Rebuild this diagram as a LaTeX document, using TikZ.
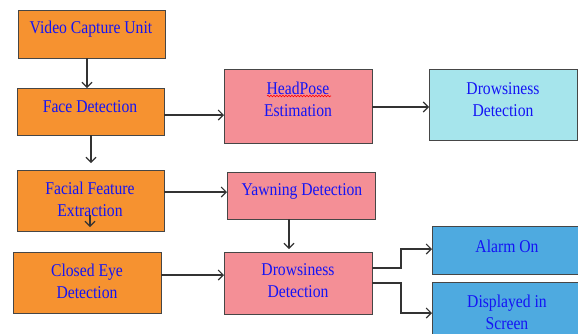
\documentclass[tikz,border=0pt]{standalone}
\usepackage{fontspec}
\setmainfont{Liberation Serif}[FakeStretch=0.87]
\usetikzlibrary{arrows.meta,decorations.pathmorphing}
\definecolor{orng}{RGB}{246,146,48}
\definecolor{pnk}{RGB}{244,143,150}
\definecolor{cyn}{RGB}{166,229,236}
\definecolor{blu}{RGB}{78,170,224}
\definecolor{txt}{RGB}{20,20,245}
\definecolor{edge}{RGB}{70,70,70}
\tikzset{
  box/.style={draw=edge,line width=1pt,inner sep=0pt,outer sep=0pt},
  lbl/.style={text=txt,font=\fontsize{18}{22}\selectfont,align=center,inner sep=0pt},
  conn/.style={draw=black!80,line width=1.2pt,-{Straight Barb[length=5pt,width=10pt,line width=1.1pt]}},
}
\begin{document}
\begin{tikzpicture}[x=1pt,y=-1pt]
\useasboundingbox (0,0) rectangle (578,333);
% boxes
\node[box,fill=orng,minimum width=147pt,minimum height=48pt] (vcu) at (91.5,34) {};
\node[box,fill=orng,minimum width=147pt,minimum height=47pt] (face) at (90.5,111.5) {};
\node[box,fill=orng,minimum width=147pt,minimum height=61pt] (feat) at (90.5,200.5) {};
\node[box,fill=orng,minimum width=148pt,minimum height=61pt] (eye) at (87,282.5) {};
\node[box,fill=pnk,minimum width=148pt,minimum height=74pt] (head) at (298,106) {};
\node[box,fill=cyn,minimum width=148pt,minimum height=71pt] (drow1) at (503,104.5) {};
\node[box,fill=pnk,minimum width=148pt,minimum height=47pt] (yawn) at (301,195.5) {};
\node[box,fill=pnk,minimum width=148pt,minimum height=62pt] (drow2) at (298,283) {};
\node[box,fill=blu,minimum width=150pt,minimum height=48pt] (alarm) at (507,250) {};
\node[box,fill=blu,minimum width=150pt,minimum height=60pt] (disp) at (507,312) {};
% labels
\node[lbl] (tvcu) at (91,29) {Video Capture Unit};
\node[lbl] (tface) at (90,107) {Face Detection};
\node[lbl] (tfeat) at (90,199) {Facial Feature\\Extraction};
\node[lbl] (teye) at (87,281) {Closed Eye\\Detection};
\node[lbl] (thead) at (298,99) {HeadPose\\Estimation};
\node[lbl] (tdrow1) at (503,99.5) {Drowsiness\\Detection};
\node[lbl] (tyawn) at (302,191) {Yawning Detection};
\node[lbl] (tdrow2) at (298,281) {Drowsiness\\Detection};
\node[lbl] (talarm) at (507,246) {Alarm On};
\node[lbl] (tdisp) at (507,312.5) {Displayed in\\Screen};
% spell-check squiggle under HeadPose
\coordinate (sq1) at (267,96);
\coordinate (sq2) at (331,96);
\draw[red,line width=0.6pt,decorate,decoration={snake,amplitude=0.8pt,segment length=3pt}] (sq1) -- (sq2);
% connectors
\draw[conn] (vcu.south -| 87,0) -- (face.north -| 87,0);
\coordinate (c1) at (91,163);
\draw[conn] (face.south -| c1) -- (c1);
\coordinate (c2) at (90,215);
\coordinate (c3) at (90,227);
\draw[conn] (c2) -- (c3);
\draw[conn] (face.east |- 0,115) -- (head.west |- 0,115);
\draw[conn] (head.east |- 0,107) -- (drow1.west |- 0,107);
\draw[conn] (feat.east |- 0,192) -- (yawn.west |- 0,192);
\draw[conn] (eye.east |- 0,275) -- (drow2.west |- 0,275);
\draw[conn] (yawn.south -| 289,0) -- (289,249);
\draw[conn] (drow2.east |- 0,268) -- (401,268) -- (401,249) -- (alarm.west |- 0,249);
\draw[conn] (drow2.east |- 0,283) -- (401,283) -- (401,313) -- (disp.west |- 0,313);
\end{tikzpicture}
\end{document}
